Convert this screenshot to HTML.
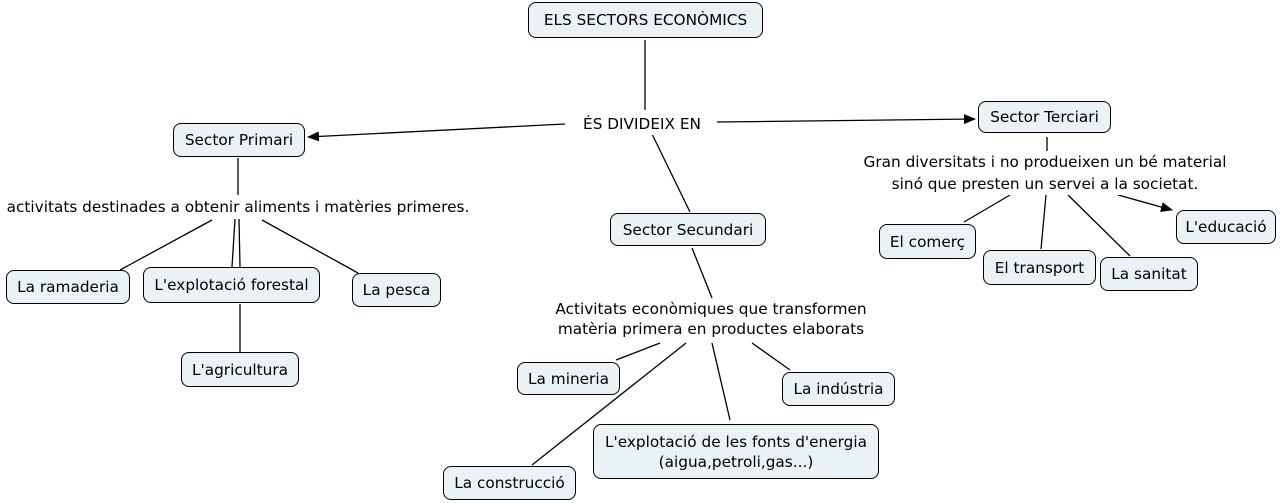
<!DOCTYPE html>
<html><head><meta charset="utf-8"><style>
body{margin:0;width:1280px;height:503px;background:#fff;position:relative;overflow:hidden;font-family:"DejaVu Sans","Liberation Sans",sans-serif;font-size:15.3px;color:#000}
.b{position:absolute;box-sizing:border-box;border:1.3px solid #000;border-radius:8px;background:#ebf2f5;display:flex;align-items:center;justify-content:center;text-align:center;line-height:20px;white-space:nowrap}
.t{position:absolute;text-align:center;line-height:21px;white-space:nowrap;background:#fff}
svg{position:absolute;left:0;top:0}
</style></head><body>
<svg width="1280" height="503">
<defs><marker id="a" markerWidth="12" markerHeight="10" refX="11" refY="5" orient="auto" markerUnits="userSpaceOnUse"><path d="M0,0L12,5L0,10z"/></marker></defs>
<g stroke="#000" stroke-width="1.3" fill="none">
<line x1="645" y1="40" x2="645" y2="110"/>
<line x1="565" y1="124" x2="308" y2="137" marker-end="url(#a)"/>
<line x1="717" y1="122" x2="975" y2="119" marker-end="url(#a)"/>
<line x1="652" y1="134" x2="690" y2="212"/>
<line x1="238" y1="158" x2="238" y2="195"/>
<line x1="212" y1="220" x2="120" y2="270"/>
<line x1="235" y1="219" x2="232" y2="267"/>
<line x1="239" y1="219" x2="240" y2="267"/>
<line x1="262" y1="220" x2="358" y2="273"/>
<line x1="240" y1="304" x2="240" y2="352"/>
<line x1="692" y1="248" x2="712" y2="298"/>
<line x1="660" y1="343" x2="616" y2="360"/>
<line x1="686" y1="343" x2="532" y2="465"/>
<line x1="712" y1="343" x2="730" y2="420"/>
<line x1="752" y1="343" x2="790" y2="370"/>
<line x1="1047" y1="137" x2="1047" y2="152"/>
<line x1="1010" y1="195" x2="964" y2="222"/>
<line x1="1046" y1="195" x2="1041" y2="249"/>
<line x1="1068" y1="195" x2="1130" y2="256"/>
<line x1="1118" y1="195" x2="1172" y2="210" marker-end="url(#a)"/>
</g></svg>
<div class="b" style="left:528px;top:2px;width:235px;height:36px">ELS SECTORS ECONÒMICS</div>
<div class="b" style="left:173px;top:123px;width:132px;height:34px">Sector Primari</div>
<div class="b" style="left:978px;top:101px;width:133px;height:32px">Sector Terciari</div>
<div class="b" style="left:610px;top:213px;width:156px;height:33px">Sector Secundari</div>
<div class="b" style="left:6px;top:270px;width:124px;height:34px">La ramaderia</div>
<div class="b" style="left:143px;top:267px;width:177px;height:36px">L'explotació forestal</div>
<div class="b" style="left:352px;top:273px;width:89px;height:34px">La pesca</div>
<div class="b" style="left:181px;top:352px;width:118px;height:35px">L'agricultura</div>
<div class="b" style="left:517px;top:362px;width:103px;height:33px">La mineria</div>
<div class="b" style="left:782px;top:372px;width:113px;height:34px">La indústria</div>
<div class="b" style="left:593px;top:424px;width:286px;height:55px">L'explotació de les fonts d'energia<br>(aigua,petroli,gas...)</div>
<div class="b" style="left:443px;top:466px;width:133px;height:34px">La construcció</div>
<div class="b" style="left:879px;top:224px;width:97px;height:35px">El comerç</div>
<div class="b" style="left:983px;top:250px;width:113px;height:35px">El transport</div>
<div class="b" style="left:1100px;top:257px;width:98px;height:34px">La sanitat</div>
<div class="b" style="left:1176px;top:210px;width:100px;height:34px">L'educació</div>
<div class="t" style="left:568px;top:114px;width:148px">ÉS DIVIDEIX EN</div>
<div class="t" style="left:0px;top:197px;width:476px">activitats destinades a obtenir aliments i matèries primeres.</div>
<div class="t" style="left:835px;top:151px;width:420px;line-height:22px">Gran diversitats i no produeixen un bé material<br>sinó que presten un servei a la societat.</div>
<div class="t" style="left:521px;top:299px;width:380px;line-height:20px">Activitats econòmiques que transformen<br>matèria primera en productes elaborats</div>
</body></html>
